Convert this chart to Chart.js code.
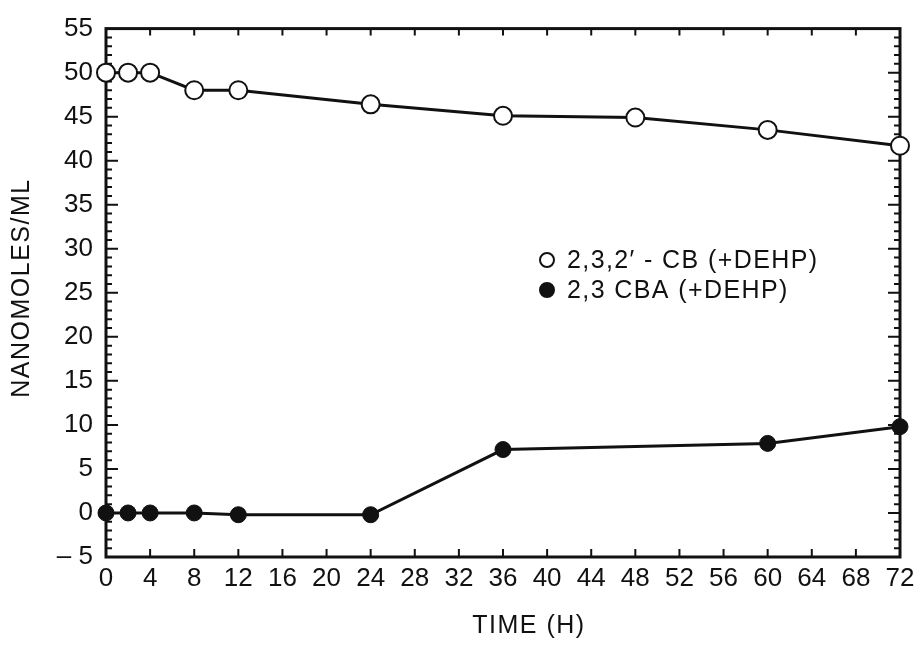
<!DOCTYPE html>
<html>
<head>
<meta charset="utf-8">
<script src="https://cdn.jsdelivr.net/npm/chart.js@4.4.1/dist/chart.umd.min.js"></script>
<style>
  html, body { margin: 0; padding: 0; background: #fff; }
  #wrap { width: 921px; height: 645px; position: relative; }
</style>
</head>
<body>
<div id="wrap"><canvas id="timeChart"></canvas></div>
<script>
// sampling times (hours) and concentrations (nanomoles/ml)
const cbHours = [0, 2, 4, 8, 12, 24, 36, 48, 60, 72];
const cbValues = [50, 50, 50, 48, 48, 46.4, 45.1, 44.9, 43.5, 41.7];
const cbaHours = [0, 2, 4, 8, 12, 24, 36, 60, 72];
const cbaValues = [0, 0, 0, 0, -0.2, -0.2, 7.2, 7.9, 9.8];

const seriesLabels = ['2,3,2\u2032 - CB (+DEHP)', '2,3 CBA (+DEHP)'];
const xTitle = 'TIME (H)';
const yTitle = 'NANOMOLES/ML';

const INK = '#111';
const FONT = '"Liberation Sans", Arial, Helvetica, sans-serif';

function toPoints(xs, ys) {
    return xs.map((x, i) => ({ x: x, y: ys[i] }));
}

// frame, inward ticks, titles and the inset legend
const framePlugin = {
    id: 'frame',
    beforeDatasetsDraw(chart) {
        const { ctx, chartArea: a, scales } = chart;
        ctx.save();
        ctx.strokeStyle = INK;
        ctx.lineWidth = 3;
        ctx.strokeRect(a.left, a.top, a.right - a.left, a.bottom - a.top);

        ctx.lineWidth = 2;
        ctx.beginPath();
        // x ticks every 4 h, top and bottom
        for (let h = 4; h < 72; h += 4) {
            const px = scales.x.getPixelForValue(h);
            ctx.moveTo(px, a.bottom); ctx.lineTo(px, a.bottom - 8);
            ctx.moveTo(px, a.top); ctx.lineTo(px, a.top + 7);
        }
        // y ticks: major every 5, minor every 1, left and right
        for (let v = -4; v < 55; v++) {
            const py = scales.y.getPixelForValue(v);
            const len = v % 5 === 0 ? 12 : 6;
            ctx.moveTo(a.left, py); ctx.lineTo(a.left + len, py);
            ctx.moveTo(a.right, py); ctx.lineTo(a.right - len, py);
        }
        ctx.stroke();
        ctx.restore();
    },
    afterDraw(chart) {
        const { ctx } = chart;
        ctx.save();
        ctx.fillStyle = INK;
        ctx.font = '25px ' + FONT;
        ctx.letterSpacing = '1.5px';
        ctx.textAlign = 'center';
        ctx.textBaseline = 'middle';
        ctx.fillText(xTitle, 529, 626);

        ctx.translate(22, 288);
        ctx.rotate(-Math.PI / 2);
        ctx.fillText(yTitle, 0, 0);
        ctx.restore();

        // legend
        ctx.save();
        ctx.font = '25px ' + FONT;
        ctx.letterSpacing = '1.4px';
        ctx.textAlign = 'left';
        ctx.textBaseline = 'middle';
        chart.data.datasets.forEach((ds, i) => {
            const y = 260 + i * 30;
            ctx.beginPath();
            ctx.arc(547, y, 7, 0, Math.PI * 2);
            ctx.fillStyle = ds.pointBackgroundColor;
            ctx.fill();
            ctx.lineWidth = 2;
            ctx.strokeStyle = INK;
            ctx.stroke();
            ctx.fillStyle = INK;
            ctx.fillText(ds.label, 567, y + 1);
        });
        ctx.restore();
    }
};

const canvas = document.getElementById('timeChart');
new Chart(canvas, {
    type: 'line',
    data: {
        datasets: [{
            label: seriesLabels[0],
            data: toPoints(cbHours, cbValues),
            borderColor: INK,
            borderWidth: 3,
            pointRadius: 9,
            pointBorderWidth: 2,
            pointBackgroundColor: '#fff',
            pointBorderColor: INK,
            tension: 0,
            clip: false
        }, {
            label: seriesLabels[1],
            data: toPoints(cbaHours, cbaValues),
            borderColor: INK,
            borderWidth: 3,
            pointRadius: 8,
            pointBorderWidth: 1,
            pointBackgroundColor: INK,
            pointBorderColor: INK,
            tension: 0,
            clip: false
        }]
    },
    options: {
        responsive: true,
        maintainAspectRatio: false,
        animation: false,
        layout: {
            padding: { left: 0, top: 26, right: 21, bottom: 0 }
        },
        plugins: {
            legend: { display: false },
            tooltip: { enabled: false }
        },
        scales: {
            x: {
                type: 'linear',
                min: 0,
                max: 72,
                grid: { display: false, drawTicks: false },
                border: { display: false },
                afterFit: function(scale) { scale.height = 88; },
                ticks: {
                    stepSize: 4,
                    padding: 6,
                    color: INK,
                    maxRotation: 0,
                    autoSkip: false,
                    font: { family: FONT, size: 26 }
                }
            },
            y: {
                min: -5,
                max: 55,
                grid: { display: false, drawTicks: false },
                border: { display: false },
                afterFit: function(scale) { scale.width = 106; },
                ticks: {
                    stepSize: 5,
                    padding: 13,
                    color: INK,
                    font: { family: FONT, size: 26 },
                    callback: function(value) {
                        return value < 0 ? '\u2013 ' + Math.abs(value) : value;
                    }
                }
            }
        }
    },
    plugins: [framePlugin]
});
</script>
</body>
</html>
